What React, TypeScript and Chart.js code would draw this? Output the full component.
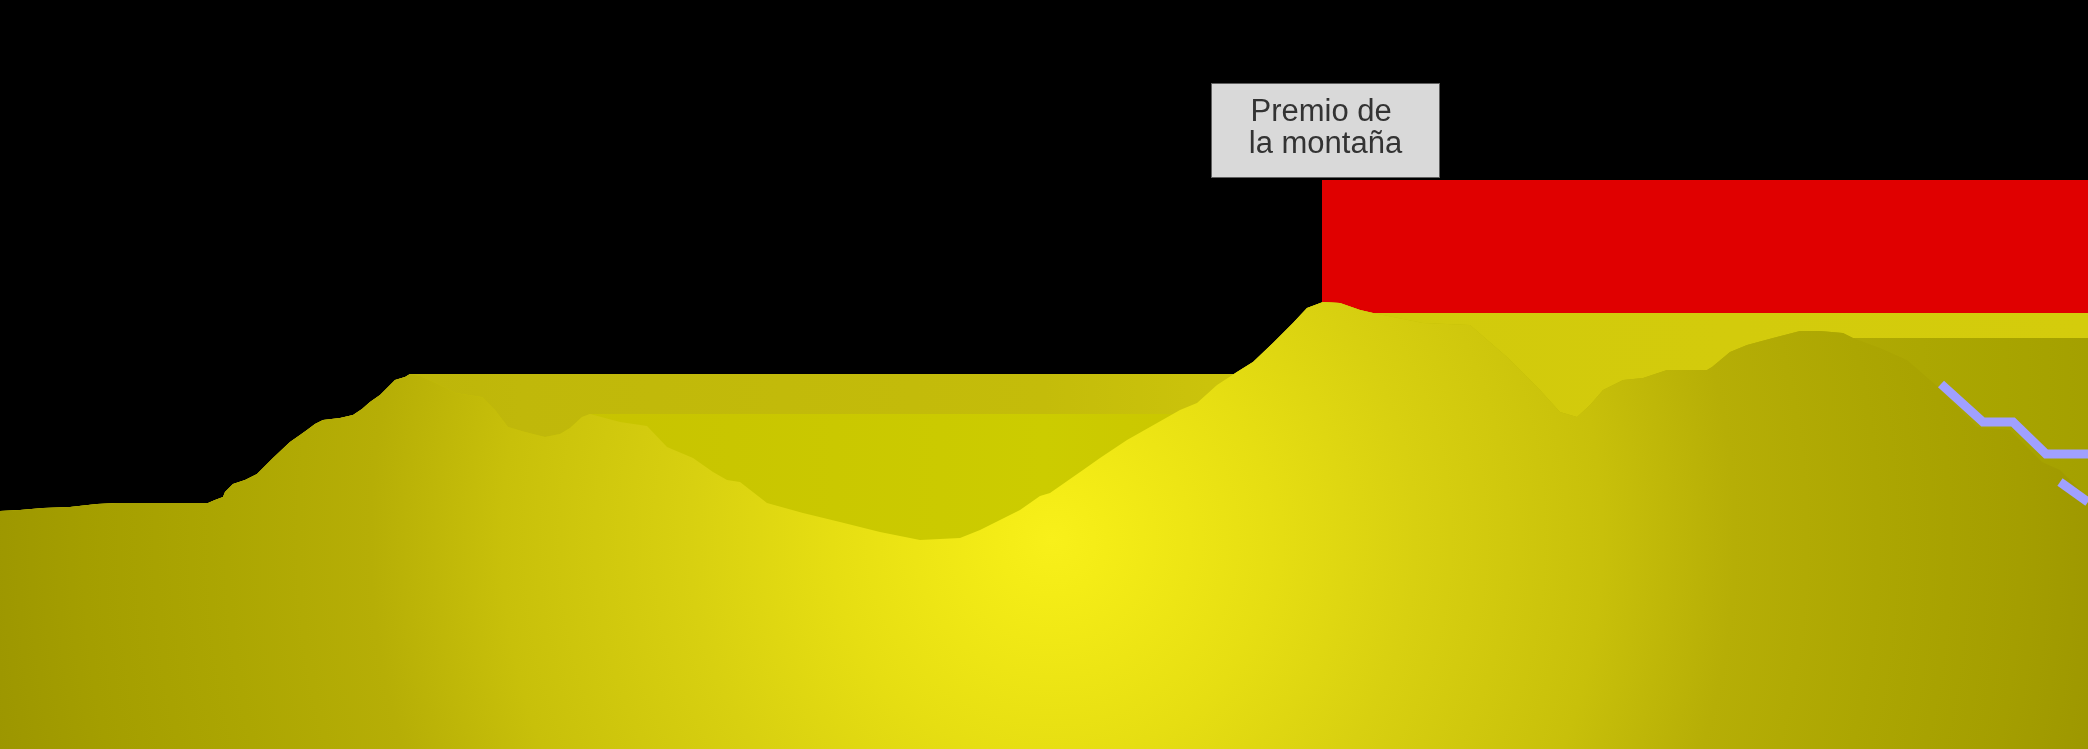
import React, { useEffect, useRef } from "react";
import { Chart, registerables } from "chart.js";

Chart.register(...registerables);

// ---- data (km along the stage, elevation in metres) ----
const profileKm = [
  0, 2, 4.3, 7, 9.7, 11.7, 16, 20.8, 21.5, 22.3, 22.5, 23.3, 24.5, 25.7, 26.5, 27.3, 29, 30, 30.7, 31.5,
  32.3, 34, 35.3, 36.2, 37, 38, 39.5, 40.5, 41, 42, 44, 45.5, 48.2, 49.5, 50.8, 52.5, 54.5, 56, 57, 58.2,
  59, 60.5, 62, 64.7, 66.7, 69.3, 71.3, 72.7, 74, 76.7, 80.3, 84, 88, 92, 96, 98, 100, 102, 104, 105,
  108.3, 110, 112.7, 115, 118, 119.7, 121.7, 123.7, 125.3, 127.3, 129.3, 130.7, 132.3, 134, 136, 137.3,
  142.3, 147, 150.7, 154, 156, 157.7, 159, 160.3, 162.3, 164.3, 166.7, 170.7, 171.2, 173, 174.7, 177.3,
  180, 182, 184.3, 185.3, 188, 190.7, 193.7, 197.7, 201, 204.2, 206, 208.8,
];
const profileElev = [
  476, 478, 482, 484, 490, 492, 492, 492, 498, 504, 514, 530, 538, 550, 566, 582, 614, 628, 638, 650,
  658, 662, 668, 680, 694, 708, 738, 744, 750, 746, 728, 712, 704, 678, 644, 634, 624, 630, 642, 664,
  670, 662, 654, 646, 604, 582, 554, 538, 534, 492, 472, 454, 434, 418, 422, 438, 458, 478, 506, 512,
  558, 582, 618, 644, 678, 692, 728, 754, 774, 812, 852, 882, 894, 892, 878, 872,
  852, 848, 784, 718, 674, 664, 688, 718, 738, 742, 758, 758, 764, 794, 808, 822,
  836, 836, 832, 822, 802, 778, 726, 644, 638, 574, 558, 502,
];

// plateaus of the shaded layers: [from km, to km, elevation]
const outerPlateaus = [
  [41, 123.4, 750],
  [137.3, 208.8, 872],
];
const innerPlateaus = [
  [59, 117.3, 670],
  [185.3, 208.8, 822],
];

// lilac stepped line on the descent (two pieces)
const stepKm = [194.1, 198.3, 201.3, 204.6, 208.8];
const stepElev = [730, 654, 654, 590, 590];
const stepTailKm = [206, 208.8];
const stepTailElev = [534, 494];

// mountain prize band
const prizeKm = [132.2, 208.8];
const prizeTop = 1138;
const prizeBottom = 872;
const summitKm = 132.2;
const summitLabel = ["Premio de ", "la montaña"];

const X_MAX = 208.8;
const Y_MAX = 1498;

type Pt = { x: number; y: number | null };

function profilePoints(): Pt[] {
  return profileKm.map((k, i) => ({ x: k, y: profileElev[i] }));
}

function withPlateaus(plateaus: number[][]): Pt[] {
  const pts: Pt[] = [];
  profileKm.forEach((k, i) => {
    const inside = plateaus.some(([a, b]) => k >= a && k <= b);
    if (!inside) pts.push({ x: k, y: profileElev[i] });
  });
  plateaus.forEach(([a, b, lvl]) => {
    pts.push({ x: a, y: lvl });
    pts.push({ x: b, y: lvl });
  });
  return pts.sort((p, q) => p.x - q.x);
}

function radialFill(chart: any) {
  const { ctx, chartArea: a } = chart;
  if (!a) return "rgba(0,0,0,0)";
  const w = a.right - a.left;
  const h = a.bottom - a.top;
  const cx = a.left + w * 0.504;
  const cy = a.top + h * 0.72;
  const g = ctx.createRadialGradient(cx, cy, 0, cx, cy, w * 0.527);
  g.addColorStop(0, "#f8f01a");
  g.addColorStop(0.05, "#f4ec16");
  g.addColorStop(0.2, "#e6de12");
  g.addColorStop(0.33, "#d8d010");
  g.addColorStop(0.5, "#c8c00a");
  g.addColorStop(0.62, "#b6ae06");
  g.addColorStop(0.75, "#aca602");
  g.addColorStop(0.88, "#a49e00");
  g.addColorStop(1, "#9a9400");
  return g;
}

function outerFill(chart: any) {
  const { ctx, chartArea: a } = chart;
  if (!a) return "rgba(0,0,0,0)";
  const g = ctx.createLinearGradient(a.left, 0, a.right, 0);
  g.addColorStop(0, "#b4ac06");
  g.addColorStop(0.25, "#c0b80a");
  g.addColorStop(0.5, "#c4bc0a");
  g.addColorStop(0.66, "#d2ca0c");
  g.addColorStop(1, "#d4cc0c");
  return g;
}

function innerFill(chart: any) {
  const { ctx, chartArea: a } = chart;
  if (!a) return "rgba(0,0,0,0)";
  const g = ctx.createLinearGradient(a.left, 0, a.right, 0);
  g.addColorStop(0, "#bcb806");
  g.addColorStop(0.3, "#c8c400");
  g.addColorStop(0.5, "#cccc00");
  g.addColorStop(0.58, "#cac600");
  g.addColorStop(0.88, "#b0aa04");
  g.addColorStop(0.96, "#a8a400");
  g.addColorStop(1, "#a4a000");
  return g;
}

const summitLabelPlugin = {
  id: "summitLabel",
  afterDatasetsDraw(chart: any) {
    const { ctx } = chart;
    const x = chart.scales.x;
    const y = chart.scales.y;
    const cx = x.getPixelForValue(summitKm) + 4;
    const bottom = y.getPixelForValue(prizeTop) - 2;
    ctx.save();
    ctx.font = '31px "Liberation Sans", Arial, sans-serif';
    const textW = Math.max(...summitLabel.map((l) => ctx.measureText(l).width));
    const w = Math.round(textW + 76);
    const h = 95;
    const left = Math.round(cx - w / 2);
    const top = Math.round(bottom - h);
    ctx.fillStyle = "#d9d9d9";
    ctx.fillRect(left, top, w, h);
    ctx.strokeStyle = "#606060";
    ctx.lineWidth = 1;
    ctx.strokeRect(left + 0.5, top + 0.5, w - 1, h - 1);
    ctx.fillStyle = "#333333";
    ctx.textAlign = "center";
    ctx.textBaseline = "alphabetic";
    summitLabel.forEach((line, i) => {
      ctx.fillText(line, left + w / 2, top + 38 + i * 32);
    });
    ctx.restore();
  },
};

const lilac = {
  borderColor: "#a0a0ff",
  borderWidth: 9,
  borderCapStyle: "butt",
  borderJoinStyle: "miter",
  fill: false,
};

export default function App() {
  const canvasRef = useRef<HTMLCanvasElement | null>(null);

  useEffect(() => {
    document.documentElement.style.background = "#000";
    document.body.style.margin = "0";
    document.body.style.background = "#000";
    const canvas = canvasRef.current;
    if (!canvas) return;

    const chart = new Chart(canvas, {
      type: "line",
      data: {
        datasets: [
          {
            label: "step",
            data: stepKm.map((k, i) => ({ x: k, y: stepElev[i] })),
            ...lilac,
            order: 0,
          },
          {
            label: "stepTail",
            data: stepTailKm.map((k, i) => ({ x: k, y: stepTailElev[i] })),
            ...lilac,
            order: 0,
          },
          {
            label: "profile",
            data: profilePoints(),
            borderWidth: 0,
            borderColor: "rgba(0,0,0,0)",
            backgroundColor: (c: any) => radialFill(c.chart),
            fill: "origin",
            order: 1,
          },
          {
            label: "inner",
            data: withPlateaus(innerPlateaus),
            borderWidth: 0,
            borderColor: "rgba(0,0,0,0)",
            backgroundColor: (c: any) => innerFill(c.chart),
            fill: "origin",
            order: 2,
          },
          {
            label: "outer",
            data: withPlateaus(outerPlateaus),
            borderWidth: 0,
            borderColor: "rgba(0,0,0,0)",
            backgroundColor: (c: any) => outerFill(c.chart),
            fill: "origin",
            order: 3,
          },
          {
            label: "prizeTop",
            data: prizeKm.map((k) => ({ x: k, y: prizeTop })),
            borderWidth: 0,
            borderColor: "rgba(0,0,0,0)",
            backgroundColor: "#e00000",
            fill: "+1",
            order: 4,
          },
          {
            label: "prizeBottom",
            data: prizeKm.map((k) => ({ x: k, y: prizeBottom })),
            borderWidth: 0,
            borderColor: "rgba(0,0,0,0)",
            fill: false,
            order: 5,
          },
        ],
      } as any,
      options: {
        responsive: false,
        maintainAspectRatio: false,
        animation: false,
        layout: { padding: 0 },
        parsing: false as any,
        normalized: false,
        elements: {
          point: { radius: 0, hoverRadius: 0 },
          line: { tension: 0 },
        },
        plugins: {
          legend: { display: false },
          tooltip: { enabled: false },
        },
        scales: {
          x: { type: "linear", display: false, min: 0, max: X_MAX },
          y: { type: "linear", display: false, min: 0, max: Y_MAX },
        },
      } as any,
      plugins: [summitLabelPlugin],
    });

    return () => chart.destroy();
  }, []);

  return (
    <div style={{ width: 2088, height: 749, background: "#000" }}>
      <canvas
        ref={canvasRef}
        width={2088}
        height={749}
        style={{ display: "block", width: 2088, height: 749 }}
      />
    </div>
  );
}
